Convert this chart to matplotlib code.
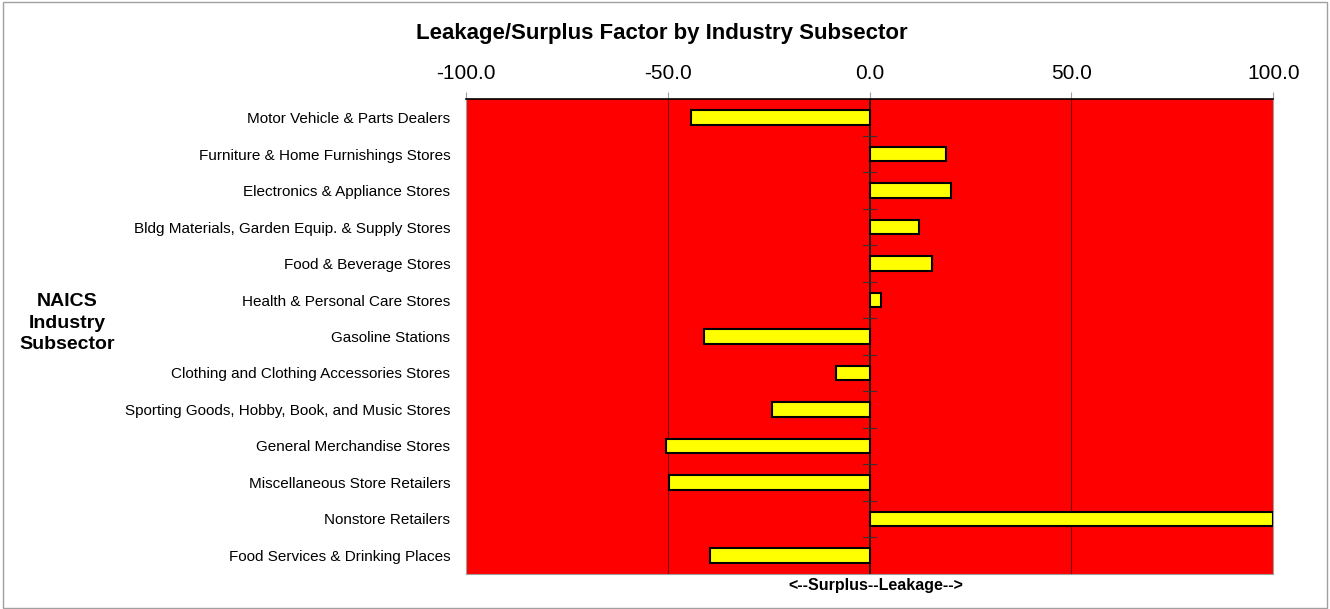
import matplotlib.pyplot as plt
from matplotlib.patches import Rectangle

plt.rcParams['font.family'] = ['Liberation Sans', 'DejaVu Sans']

# Datos
subsectores = ["Motor Vehicle & Parts Dealers",
               "Furniture & Home Furnishings Stores",
               "Electronics & Appliance Stores",
               "Bldg Materials, Garden Equip. & Supply Stores",
               "Food & Beverage Stores",
               "Health & Personal Care Stores",
               "Gasoline Stations",
               "Clothing and Clothing Accessories Stores",
               "Sporting Goods, Hobby, Book, and Music Stores",
               "General Merchandise Stores",
               "Miscellaneous Store Retailers",
               "Nonstore Retailers",
               "Food Services & Drinking Places"]
factor = [-44.3, 18.9, 20.2, 12.3, 15.5, 2.8, -41.1, -8.3, -24.1, -50.4, -49.6, 100.0, -39.5]
ticks_x = [-100, -50, 0, 50, 100]

fig = plt.figure(figsize=(13.3, 6.09), dpi=100)
# borde exterior gris
fig.patches.append(Rectangle((0.002, 0.002), 0.996, 0.994, transform=fig.transFigure,
                             fill=False, edgecolor='#a0a0a0', linewidth=1))

ax = fig.add_axes([0.3502, 0.0580, 0.6072, 0.7789])
ax.set_facecolor('#ff0000')

y = list(range(len(subsectores)))
ax.barh(y, factor, height=0.4, color='#ffff00', edgecolor='black', linewidth=1.5, zorder=3)

ax.set_xlim(-100, 100)
ax.set_ylim(len(subsectores) - 0.5, -0.5)

# lineas verticales
for v in [-50, 50]:
    ax.axvline(v, color='#7a0000', linewidth=0.8, zorder=1)
ax.axvline(0, color='black', linewidth=1.2, zorder=4)

# marquitas de separacion entre categorias sobre el eje cero
for k in range(1, len(subsectores)):
    ax.plot([-1.5, 1.5], [k - 0.5, k - 0.5], color='#333333', linewidth=0.8, zorder=4)

ax.xaxis.tick_top()
ax.set_xticks(ticks_x)
ax.set_xticklabels(["{:.1f}".format(t) for t in ticks_x], fontsize=15)
ax.tick_params(axis='x', length=5, color='#a0a0a0', pad=7)

ax.set_yticks(y)
ax.set_yticklabels(subsectores, fontsize=11)
ax.tick_params(axis='y', length=0, pad=11)

for s in ['left', 'bottom', 'right']:
    ax.spines[s].set_color('#a0a0a0')
ax.spines['top'].set_color('black')
ax.spines['top'].set_linewidth(1.2)

fig.text(0.4977, 0.945, "Leakage/Surplus Factor by Industry Subsector",
         ha='center', va='center', fontsize=16, fontweight='bold')
fig.text(0.0504, 0.4696, "NAICS\nIndustry\nSubsector", ha='center', va='center',
         fontsize=14, fontweight='bold', linespacing=1.35)
fig.text(0.6586, 0.039, "<--Surplus--Leakage-->", ha='center', va='center',
         fontsize=11.5, fontweight='bold')

fig.savefig("out.png", dpi=100)
